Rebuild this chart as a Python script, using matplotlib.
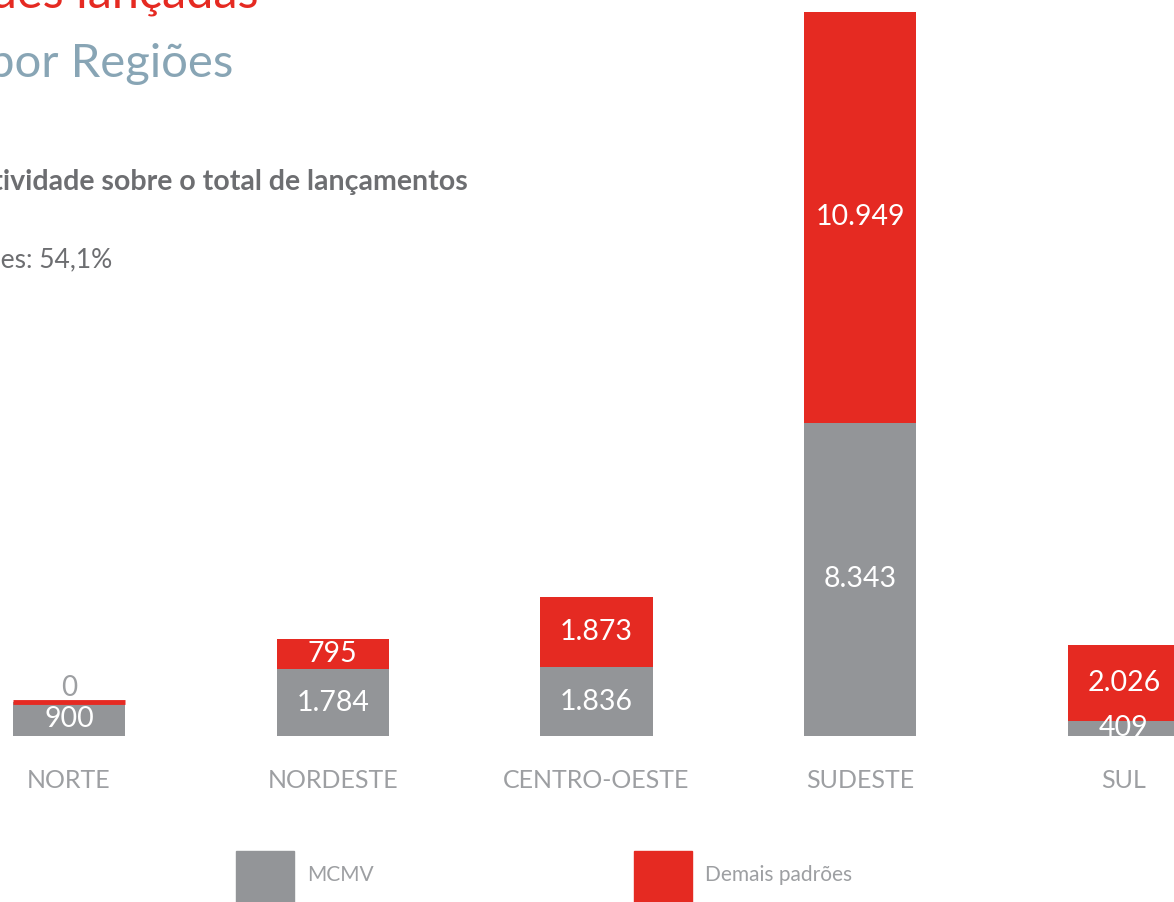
import matplotlib

matplotlib.use("Agg")
import matplotlib.pyplot as plt
from matplotlib.patches import Rectangle
import numpy as np

plt.rcParams["font.family"] = ["Lato", "DejaVu Sans"]

# dados: unidades lançadas por região
regioes = ["NORTE", "NORDESTE", "CENTRO-OESTE", "SUDESTE", "SUL"]
mcmv = [900, 1784, 1836, 8343, 409]
demais = [0, 795, 1873, 10949, 2026]
legenda = ["MCMV", "Demais padrões"]

CINZA = "#939598"
VERMELHO = "#e52a22"
TEXTO = "#6d6e71"
ROTULO = "#9d9fa2"
AZUL = "#88a5b5"

W, H = 1174, 902


def fmt(v):
    return f"{v:,}".replace(",", ".")


fig = plt.figure(figsize=(W / 100, H / 100), dpi=100)
ax = fig.add_axes([0, (H - 736) / H, 1, (736 - 12) / H])

x = np.arange(len(regioes))
ax.bar(x, mcmv, width=0.425, color=CINZA)
# barra de valor zero ainda aparece como uma faixa fina
larg = [3.5 if v == 0 else 0 for v in demais]
ax.bar(x, demais, bottom=mcmv, width=0.425, color=VERMELHO, edgecolor=VERMELHO, linewidth=larg)

for xi, m, d in zip(x, mcmv, demais):
    ax.text(xi, m / 2, fmt(m), ha="center", va="center", color="white", fontsize=20.5)
    if d > 0:
        ax.text(xi, m + d / 2, fmt(d), ha="center", va="center", color="white", fontsize=20.5)
    else:
        ax.annotate(fmt(d), (xi, m), xytext=(0, 1), textcoords="offset points",
                    ha="center", va="bottom", color=ROTULO, fontsize=20)

ax.set_ylim(0, max(m + d for m, d in zip(mcmv, demais)))
ax.set_xlim(-69 / 263.75, (W - 69) / 263.75)
ax.set_xticks(x)
ax.set_xticklabels(regioes, color=ROTULO, fontsize=18)
ax.tick_params(axis="x", length=0, pad=24)
ax.set_yticks([])
for s in ax.spines.values():
    s.set_visible(False)

# títulos (cortados à esquerda como no original)
fig.text(258 / W, 1 - 8 / H, "Unidades lançadas", ha="right", va="baseline", color=VERMELHO, fontsize=35)
fig.text(233 / W, 1 - 77 / H, "por Regiões", ha="right", va="baseline", color=AZUL, fontsize=34)
fig.text(468 / W, 1 - 190 / H, "Representatividade sobre o total de lançamentos", ha="right",
         va="baseline", color=TEXTO, fontsize=20.5, fontweight="bold")
fig.text(112 / W, 1 - 268 / H, "Demais padrões: 54,1%", ha="right", va="baseline", color=TEXTO, fontsize=19)

# legenda manual
for cor, nome, x0 in zip([CINZA, VERMELHO], legenda, [236, 634]):
    fig.add_artist(Rectangle((x0 / W, 0), 58 / W, 51 / H, transform=fig.transFigure, color=cor))
    fig.text((x0 + 71) / W, 1 - 875 / H, nome, ha="left", va="center", color=ROTULO,
             fontsize=15, family=["Liberation Sans Narrow", "Lato"])

fig.savefig("out.png", dpi=100)
